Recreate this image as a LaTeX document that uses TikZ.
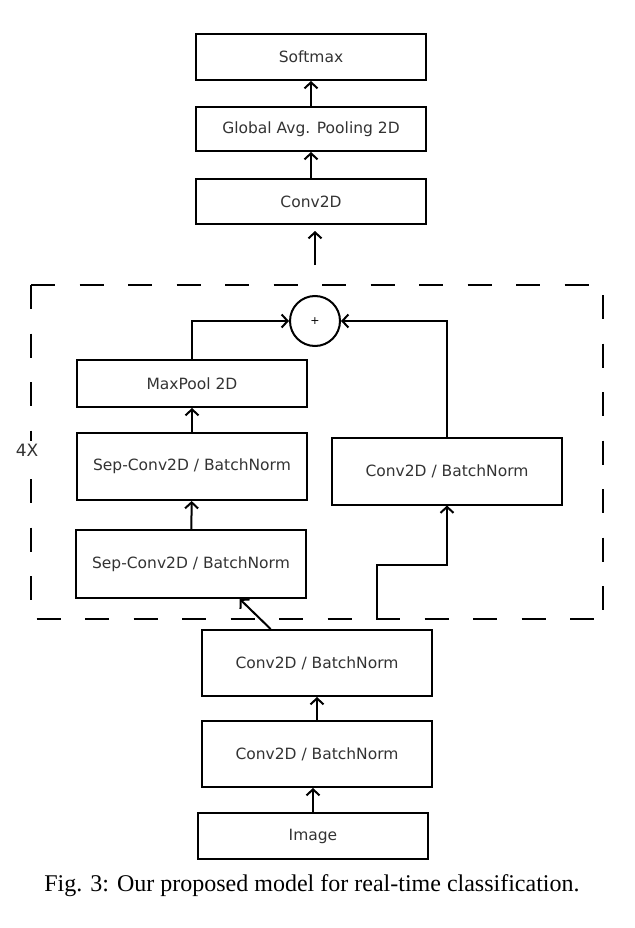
\documentclass[tikz,border=0pt]{standalone}
\usepackage{fontspec}
\setmainfont{Liberation Serif}
\newfontfamily\layerfont{DejaVu Sans}
\usetikzlibrary{calc}
\usetikzlibrary{arrows.meta}

\begin{document}
\begin{tikzpicture}[x=1pt, y=-1pt,
    layer/.style={draw, line width=2pt, inner sep=0pt, minimum width=230, text=black!80,
      font=\layerfont\fontsize{15.5}{18}\selectfont},
    flow/.style={line width=2pt, -{Straight Barb[length=6pt, width=13pt]}},
    block/.style={line width=2pt, dash pattern=on 24pt off 24.5pt}]
    \useasboundingbox (0, 0) rectangle (634, 928);

    % repeated block
    \draw[block] (31, 285) -- (603, 285) -- (603, 619);
    \draw[block] (31, 285) -- (31, 619) -- (603, 619);
    \node[fill=white, text=black!80, inner sep=3pt, font=\layerfont\fontsize{17}{20}\selectfont] (times) at (27, 450) {4X};

    \node[layer, minimum height=46] (softmax) at (311, 57) {Softmax};
    \node[layer, minimum height=44] (gap) at (311, 129) {Global Avg. Pooling 2D};
    \node[layer, minimum height=45] (conv) at (311, 201.5) {Conv2D};

    \node[draw, circle, line width=2pt, minimum size=50, inner sep=0pt,
      font=\layerfont\fontsize{11}{12}\selectfont] (plus) at (315, 321) {+};
    \node[layer, minimum height=47] (maxpool) at (192, 383.5) {MaxPool 2D};
    \node[layer, minimum height=67] (sepconvB) at (192, 466.5) {Sep-Conv2D / BatchNorm};
    \node[layer, minimum height=68] (sepconvA) at (191, 564) {Sep-Conv2D / BatchNorm};
    \node[layer, minimum height=67] (skipconv) at (447, 471) {Conv2D / BatchNorm};

    \node[layer, minimum height=66] (convbnB) at (317, 663) {Conv2D / BatchNorm};
    \node[layer, minimum height=66] (convbnA) at (317, 754) {Conv2D / BatchNorm};
    \node[layer, minimum height=46] (image) at (313, 836) {Image};

    \node[font=\fontsize{24}{28}\selectfont] (caption) at (312, 886)
      {Fig. 3: Our proposed model for real-time classification.};

    \coordinate (blockout) at (315, 265);
    \coordinate (convin) at (315, 231);
    \coordinate (skipin) at (377, 619);

    \draw[flow] (image.north) -- (image.north |- convbnA.south);
    \draw[flow] (convbnA) -- (convbnB);
    \draw[flow] ($(convbnB.north west)!0.3!(convbnB.north east)$) -- ($(sepconvA.south west)!0.71!(sepconvA.south east)$);
    \draw[flow] (skipin) -- (377, 565) -| (skipconv.south);
    \draw[flow] (sepconvA) -- (sepconvB);
    \draw[flow] (sepconvB) -- (maxpool);
    \draw[flow] (maxpool.north) |- (plus.west);
    \draw[flow] (skipconv.north) |- (plus.east);

    \draw[flow] (blockout) -- (convin);
    \draw[flow] (conv) -- (gap);
    \draw[flow] (gap) -- (softmax);
\end{tikzpicture}
\end{document}
